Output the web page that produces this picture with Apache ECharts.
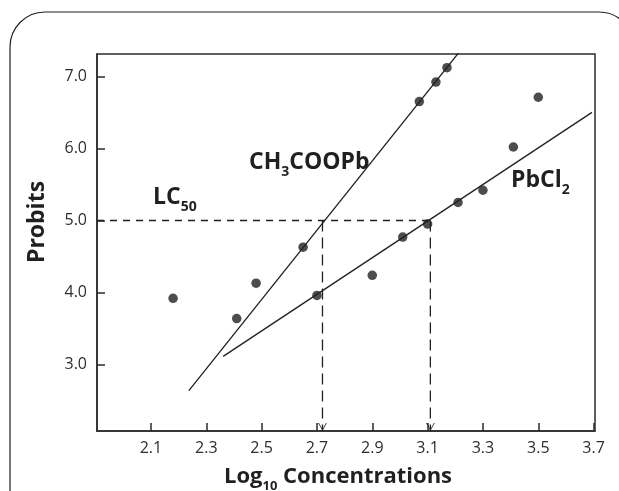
<!DOCTYPE html>
<html>
<head>
<meta charset="utf-8">
<script src="https://cdn.jsdelivr.net/npm/echarts@6/dist/echarts.min.js"></script>
<style>
  html, body { margin: 0; padding: 0; background: #fff; }
  #chart { width: 619px; height: 491px; }
</style>
</head>
<body>
<div id="chart"></div>
<script>
// tick values
const xTicks = [2.1, 2.3, 2.5, 2.7, 2.9, 3.1, 3.3, 3.5, 3.7];
const yTicks = [3.0, 4.0, 5.0, 6.0, 7.0];

// observed probits (log10 concentration, probit)
const ch3coopbPoints = [[2.18, 3.92], [2.41, 3.64], [2.48, 4.13], [2.65, 4.63], [3.07, 6.65], [3.13, 6.92], [3.17, 7.12]];
const pbcl2Points = [[2.70, 3.96], [2.90, 4.24], [3.01, 4.77], [3.10, 4.95], [3.21, 5.25], [3.30, 5.42], [3.41, 6.02], [3.50, 6.71]];

// fitted regression lines (end points)
const ch3coopbFit = [[2.237, 2.64], [3.215, 7.34]];
const pbcl2Fit = [[2.361, 3.115], [3.694, 6.50]];

// LC50 read-off
const lc50Probit = 5.0;
const lc50Values = [2.72, 3.11];

const X_MIN = 1.905, X_MAX = 3.705, Y_MIN = 2.08, Y_MAX = 7.31;
const ink = '#231f20';
const font = '"Open Sans", "DejaVu Sans", sans-serif';

const chart = echarts.init(document.getElementById('chart'), null, { renderer: 'canvas' });

function richStyle(size, subSize, subDrop) {
    return {
        m: { fontSize: size, fontWeight: 'bold', fontFamily: font, color: ink, lineHeight: size + 5, verticalAlign: 'top' },
        s: { fontSize: subSize, fontWeight: 'bold', fontFamily: font, color: ink, lineHeight: subSize, padding: [subDrop, 0, 0, 0], verticalAlign: 'bottom' }
    };
}

function richText(x, y, text, size) {
    const sub = size > 22 ? 14 : 13;
    return { type: 'text', x: x, y: y, style: { text: text, rich: richStyle(size, sub, size - 6), fill: ink } };
}

const dashedGuides = [
    [[X_MIN, lc50Probit], [lc50Values[1], lc50Probit]],
    [[lc50Values[0], lc50Probit], [lc50Values[0], Y_MIN]],
    [[lc50Values[1], lc50Probit], [lc50Values[1], Y_MIN]]
];

const option = {
    animation: false,
    backgroundColor: '#fff',
    grid: {
        left: 97, right: 24, top: 54, bottom: 60,
        show: true, borderColor: '#2b2b2b', borderWidth: 1.5
    },
    xAxis: {
        type: 'value', min: X_MIN, max: X_MAX,
        axisLine: { show: true, lineStyle: { color: '#2b2b2b', width: 1.5 } },
        axisTick: { show: true, inside: true, length: 8, customValues: xTicks, lineStyle: { color: '#2b2b2b', width: 1.5 } },
        axisLabel: {
            customValues: xTicks, margin: 9, fontSize: 16, color: '#2e2e2e', fontFamily: font,
            formatter: v => v.toFixed(1)
        },
        splitLine: { show: false }
    },
    yAxis: {
        type: 'value', min: Y_MIN, max: Y_MAX,
        axisLine: { show: true, lineStyle: { color: '#2b2b2b', width: 1.5 } },
        axisTick: { show: true, inside: true, length: 8, customValues: yTicks, lineStyle: { color: '#2b2b2b', width: 1.5 } },
        axisLabel: {
            customValues: yTicks, margin: 10, fontSize: 16, color: '#2e2e2e', fontFamily: font,
            formatter: v => v.toFixed(1)
        },
        splitLine: { show: false }
    },
    graphic: [
        { type: 'rect', z: -1, shape: { x: 10, y: 12, width: 624, height: 600, r: 35 }, style: { fill: 'none', stroke: ink, lineWidth: 1.2 } },
        richText(249, 151, '{m|CH}{s|3}{m|COOPb}', 23),
        richText(511, 169, '{m|PbCl}{s|2}', 23),
        richText(153, 186, '{m|LC}{s|50}', 23),
        richText(224, 466, '{m|Log}{s|10}{m| Concentrations}', 22),
        {
            type: 'text', x: 37, y: 222, rotation: Math.PI / 2,
            style: { text: 'Probits', fill: ink, font: 'bold 23px ' + font, textAlign: 'center', textVerticalAlign: 'middle' }
        }
    ],
    series: [
        {
            name: 'CH3COOPb fit', type: 'line', data: ch3coopbFit, symbol: 'none',
            lineStyle: { color: ink, width: 1.3 }, z: 2
        },
        {
            name: 'PbCl2 fit', type: 'line', data: pbcl2Fit, symbol: 'none',
            lineStyle: { color: ink, width: 1.3 }, z: 2
        },
        ...dashedGuides.map((seg, i) => ({
            name: 'LC50 guide ' + i, type: 'line', data: seg, symbol: 'none',
            lineStyle: { color: ink, width: 1.3, type: i === 0 ? [7, 6] : [11, 6] }, z: 1
        })),
        {
            name: 'LC50 arrows', type: 'scatter',
            data: lc50Values.map(v => [v, Y_MIN]),
            symbol: 'path://M0,0L5,8L10,0L8.8,0L5,6L1.2,0Z',
            symbolSize: [9, 8], symbolOffset: [0, -4],
            itemStyle: { color: ink }, z: 3
        },
        {
            name: 'CH3COOPb', type: 'scatter', data: ch3coopbPoints,
            symbol: 'circle', symbolSize: 9.5, itemStyle: { color: ink }, z: 4
        },
        {
            name: 'PbCl2', type: 'scatter', data: pbcl2Points,
            symbol: 'circle', symbolSize: 9.5, itemStyle: { color: ink }, z: 4
        }
    ]
};

chart.setOption(option);
</script>
</body>
</html>
